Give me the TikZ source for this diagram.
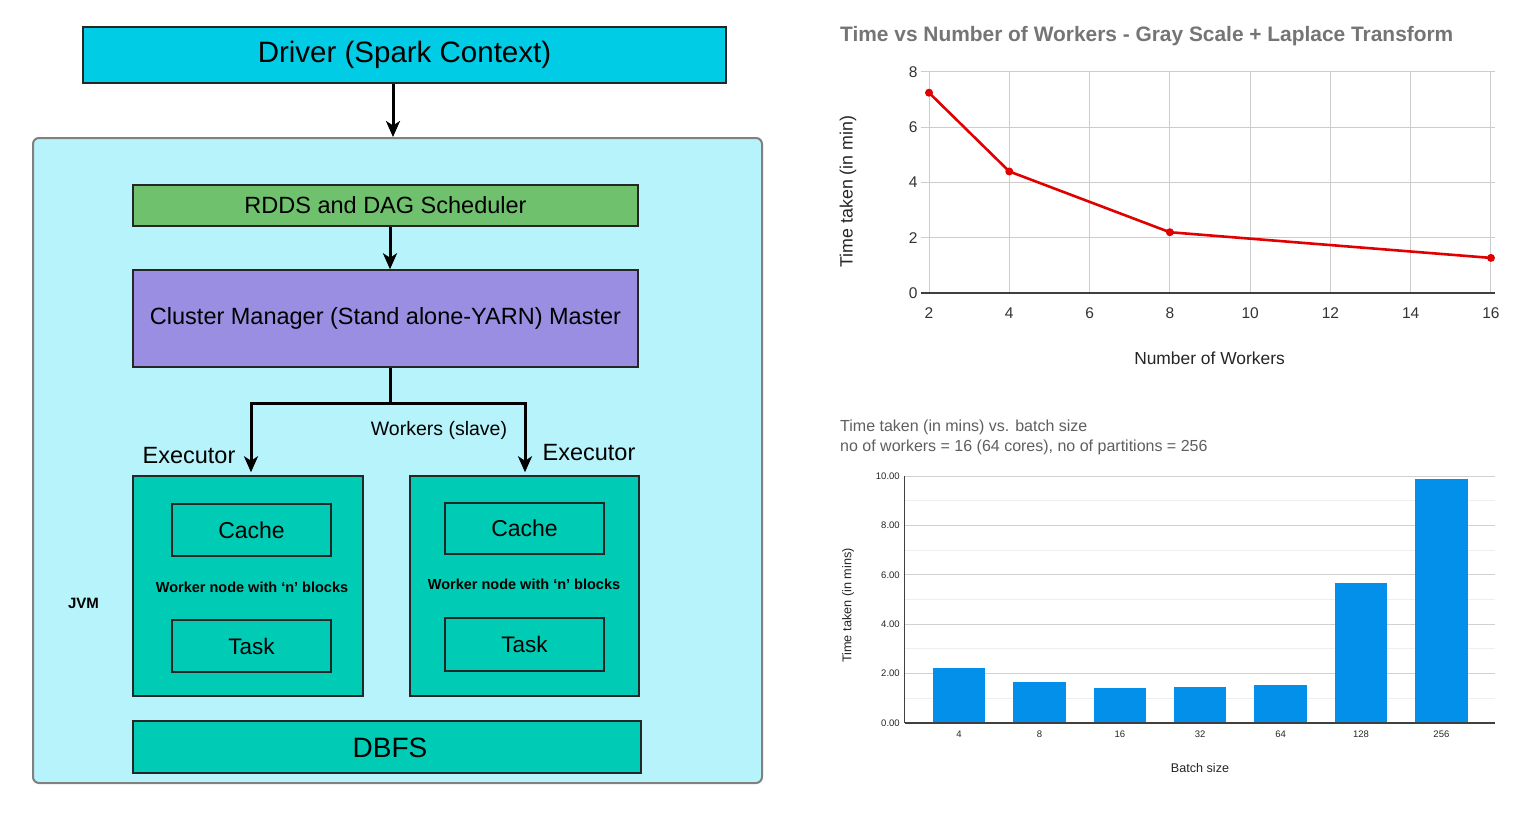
\documentclass[tikz,border=0pt]{standalone}
\usepackage{fontspec}
\setmainfont{Liberation Sans}
\usetikzlibrary{arrows.meta,calc}
\definecolor{drivercol}{RGB}{0,204,230}
\definecolor{jvmcol}{RGB}{182,243,250}
\definecolor{rddscol}{RGB}{112,193,110}
\definecolor{clustercol}{RGB}{153,142,226}
\definecolor{tealcol}{RGB}{0,204,181}
\definecolor{barcol}{RGB}{3,144,234}
\definecolor{linecol}{RGB}{224,0,0}
\definecolor{gridcol}{RGB}{204,204,204}
\definecolor{gridlight}{RGB}{238,238,238}
\definecolor{titlegray}{RGB}{117,117,117}
\definecolor{textgray}{RGB}{95,95,95}
\newcommand\fsz[1]{\fontsize{#1}{#1}\selectfont}
\begin{document}
\begin{tikzpicture}[x=1pt,y=-1pt,
  box/.style={draw=black!85, line width=1.5pt, inner sep=0pt, anchor=center},
  arr/.style={line width=3pt, -{Stealth[length=16pt,width=14pt,inset=4.5pt]}},
  plain/.style={line width=3pt},
  lbl/.style={inner sep=0pt, anchor=center},
  grid/.style={draw=gridcol, line width=1pt},
]
\useasboundingbox (0,0) rectangle (1531,816);
\fill[white] (0,0) rectangle (1531,816);

% ---------- Left diagram ----------
\node[box, draw=black!50, line width=2pt, fill=jvmcol, rounded corners=6pt,
  minimum width=729, minimum height=645] (jvm) at (397.5,460.5) {};
\node[box, fill=drivercol, minimum width=643, minimum height=56] (driver) at (404.5,55)
  {\fsz{29.5}Driver (Spark Context)};
\node[box, fill=rddscol, minimum width=505, minimum height=41] (rdds) at (385.5,205.5)
  {\fsz{23.5}RDDS and DAG Scheduler};
\node[box, fill=clustercol, minimum width=505, minimum height=97] (cluster) at (385.5,318.5)
  {\fsz{23.5}Cluster Manager (Stand alone-YARN) Master};
\node[box, fill=tealcol, minimum width=230, minimum height=220] (wl) at (248,586) {};
\node[box, fill=tealcol, minimum width=229, minimum height=220] (wr) at (524.5,586) {};
\node[box, fill=tealcol, minimum width=159, minimum height=52] (cachel) at (251.5,530) {\fsz{23}Cache};
\node[box, fill=tealcol, minimum width=159, minimum height=52] (taskl) at (251.5,646) {\fsz{22.5}Task};
\node[box, fill=tealcol, minimum width=159, minimum height=51] (cacher) at (524.5,528.5) {\fsz{23}Cache};
\node[box, fill=tealcol, minimum width=159, minimum height=53] (taskr) at (524.5,644.5) {\fsz{22.5}Task};
\node[lbl] (wtextl) at (252,587) {\fsz{14.5}\bfseries Worker node with ‘n’ blocks};
\node[lbl] (wtextr) at (524,584) {\fsz{14.5}\bfseries Worker node with ‘n’ blocks};
\node[box, fill=tealcol, minimum width=508, minimum height=52] (dbfs) at (387,747) {};
\node[lbl] (dbfstext) at (390,748) {\fsz{28}DBFS};
\node[lbl] (jvmlbl) at (83.5,603) {\fsz{15}\bfseries JVM};
\node[lbl] (execl) at (189,456) {\fsz{23.5}Executor};
\node[lbl] (execr) at (589,453) {\fsz{23.5}Executor};
\node[lbl] (workers) at (439,430) {\fsz{19.5}Workers (slave)};

\coordinate (xa) at (393,0);
\coordinate (xb) at (390,0);
\coordinate (split) at (390,403);
\coordinate (la) at (251,403);
\coordinate (ra) at (525,403);
\draw[arr] (driver.south -| xa) -- (jvm.north -| xa);
\draw[arr] (rdds.south -| xb) -- (cluster.north -| xb);
\draw[plain] (cluster.south -| xb) -- (split);
\draw[arr] (split) -- (la) -- ($(la |- wl.north)+(0,-3)$);
\draw[arr] (split) -- (ra) -- ($(ra |- wr.north)+(0,-3)$);

% ---------- Line chart ----------
\node[lbl, anchor=west, text=titlegray] (ltitle) at (840,36)
  {\fsz{20.9}\bfseries Time vs Number of Workers - Gray Scale + Laplace Transform};
\begin{scope}[shift={(848.72pt,-293pt)}, x=40.14pt, y=27.625pt]
  \foreach \v in {2,4,...,8} \draw[grid] (1.8,\v) -- (16.1,\v);
  \foreach \v in {2,4,...,16} \draw[grid] (\v,0) -- (\v,8);
  \draw[black!75, line width=1.3pt] (1.8,0) -- (16.1,0);
  \foreach \v in {0,2,4,6,8}
    \node[lbl, anchor=east, text=black!80] (ly\v) at (1.72,\v) {\fsz{15.5}\v};
  \foreach \v in {2,4,...,16}
    \node[lbl, text=black!80] (lx\v) at (\v,-0.72) {\fsz{15.5}\v};
  \draw[linecol, line width=2.6pt, line join=round] (2,7.25) -- (4,4.4) -- (8,2.2) -- (16,1.27);
  \foreach \px/\py in {2/7.25,4/4.4,8/2.2,16/1.27}
    \fill[linecol] (\px,\py) circle[radius=4pt];
\end{scope}
\node[lbl, text=black!85] (lxlabel) at (1209.5,358) {\fsz{17.4}Number of Workers};
\node[lbl, rotate=90, text=black!85] (lylabel) at (848,191.5) {\fsz{17.8}Time taken (in min)};

% ---------- Bar chart ----------
\node[lbl, anchor=west, text=textgray] (btitle1) at (840,427) {\fsz{16}Time taken (in mins) vs. batch size};
\node[lbl, anchor=west, text=textgray] (btitle2) at (840,447) {\fsz{16}no of workers = 16 (64 cores), no of partitions = 256};
\begin{scope}[shift={(959pt,-723pt)}, x=80.4pt, y=24.7pt]
  \foreach \v in {1,3,...,9} \draw[gridlight, line width=1pt] (-0.672,\v) -- (6.667,\v);
  \foreach \v in {2,4,...,10} \draw[grid, draw=black!18] (-0.672,\v) -- (6.667,\v);
  \foreach \i/\h in {0/2.23,1/1.67,2/1.42,3/1.47,4/1.52,5/5.66,6/9.88}
    \fill[barcol] (\i-0.325,0) rectangle (\i+0.325,\h);
  \draw[black!75, line width=1.3pt] (-0.672,0) -- (6.667,0);
  \draw[black!75, line width=1pt] (-0.672,0) -- (-0.672,10);
  \foreach \v in {0,2,4,6,8,10}
    \node[lbl, anchor=east, text=black!85] (by\v) at (-0.735,\v) {\fsz{9.5}\v.00};
  \foreach \i/\t in {0/4,1/8,2/16,3/32,4/64,5/128,6/256}
    \node[lbl, text=black!85] (bx\i) at (\i,-0.46) {\fsz{9.5}\t};
\end{scope}
\node[lbl, text=black!85] (bxlabel) at (1200,768) {\fsz{12.6}Batch size};
\node[lbl, rotate=90, text=black!85] (bylabel) at (848,605.5) {\fsz{12.7}Time taken (in mins)};
\end{tikzpicture}
\end{document}
